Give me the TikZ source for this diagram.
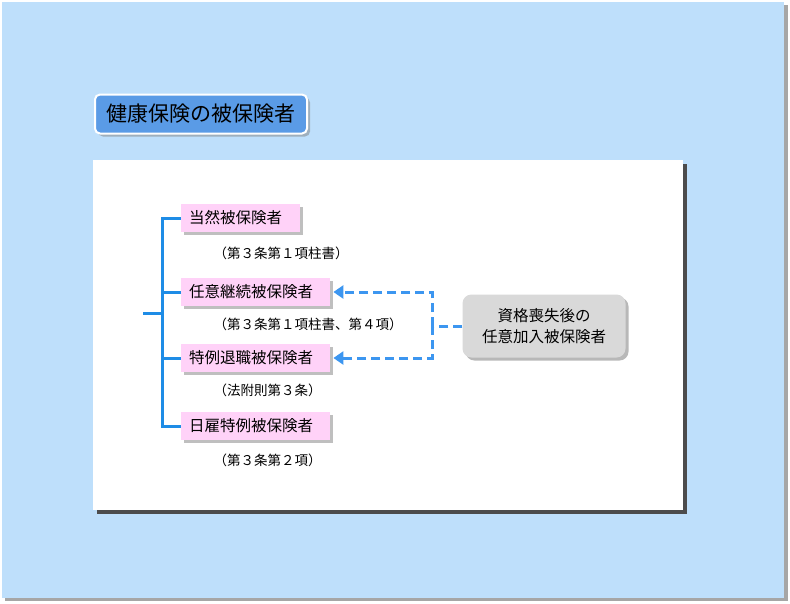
\documentclass[tikz,border=0pt]{standalone}
\usepackage{fontspec}
\setmainfont{Noto Sans CJK JP}
\usetikzlibrary{shadows,arrows.meta,patterns}
\definecolor{bgblue}{HTML}{BEDFFB}
\definecolor{lineblue}{HTML}{1E8CE6}
\definecolor{dashblue}{HTML}{3C96F0}
\definecolor{pinkf}{HTML}{FFD2F8}
\definecolor{grayf}{HTML}{D9D9D9}
\definecolor{titleblue}{HTML}{5A9BE6}
\tikzset{
  pinkbox/.style={draw=none,fill=pinkf,anchor=west,minimum height=28pt,text width=#1,inner xsep=8pt,font=\fontsize{15.5}{17}\selectfont,drop shadow={shadow xshift=3pt,shadow yshift=-3pt,fill=black!50}},
  lbl/.style={anchor=west,font=\fontsize{13.5}{15}\selectfont},
  conn/.style={lineblue,line width=3pt},
  dconn/.style={dashblue,line width=3pt,dash pattern=on 9pt off 5pt}
}
\begin{document}
\begin{tikzpicture}[x=1pt,y=-1pt]
\useasboundingbox (0,0) rectangle (790,603);
\fill[black!35] (5,5) rectangle (788,601);
\fill[bgblue] (2,2) rectangle (784,598);
\fill[black!70] (97,164) rectangle (687,514);
\fill[white] (93,160) rectangle (683,510);
\node[draw=white,line width=2pt,fill=titleblue,rounded corners=5pt,minimum width=212pt,minimum height=39pt,font=\fontsize{21}{23}\selectfont,drop shadow={shadow xshift=3pt,shadow yshift=-3pt,fill=black!50}] (title) at (201,114) {健康保険の被保険者};
\node[pinkbox=103pt] (a) at (181,218) {当然被保険者};
\node[pinkbox=133pt] (b) at (181,292) {任意継続被保険者};
\node[pinkbox=133pt] (c) at (181,358) {特例退職被保険者};
\node[pinkbox=133pt] (d) at (181,426) {日雇特例被保険者};
\node[lbl] (la) at (210,253) {（第３条第１項柱書）};
\node[lbl] (lb) at (210,324) {（第３条第１項柱書、第４項）};
\node[lbl] (lc) at (210,390) {（法附則第３条）};
\node[lbl] (ld) at (210,460) {（第３条第２項）};
\node[fill=grayf,rounded corners=9pt,minimum width=163pt,minimum height=63pt,align=center,font=\fontsize{15.5}{21}\selectfont,drop shadow={shadow xshift=3pt,shadow yshift=-3pt,fill=black!55}] (g) at (544,326) {資格喪失後の\\任意加入被保険者};
\coordinate (s) at (143,313);
\coordinate (sp) at (162,313);
\draw[conn] (s) -- (sp);
\draw[conn] (a.west) -| (sp) |- (d.west);
\draw[conn] (b.west) -- (b.west -| sp);
\draw[conn] (c.west) -- (c.west -| sp);
\coordinate (j) at (432,326);
\draw[dconn] (g.west) -- (j);
\draw[dconn,-{Triangle[length=10pt,width=13pt]}] (j) |- ([xshift=3pt]b.east);
\draw[dconn,-{Triangle[length=10pt,width=13pt]}] (j) |- ([xshift=3pt]c.east);
\end{tikzpicture}
\end{document}
